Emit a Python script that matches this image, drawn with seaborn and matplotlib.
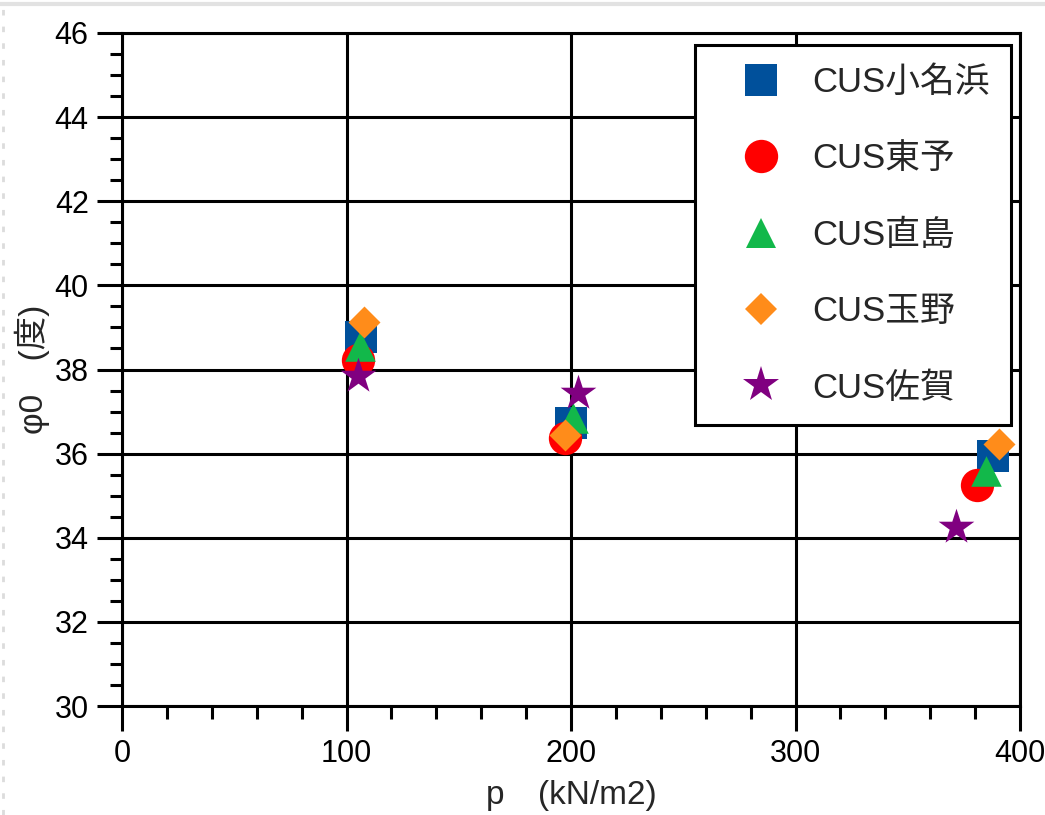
import matplotlib
matplotlib.use("Agg")
import matplotlib.pyplot as plt
from matplotlib.ticker import MultipleLocator
from matplotlib.font_manager import FontProperties
from matplotlib.lines import Line2D
import seaborn as sns
import pandas as pd

# ---- data ----
series = ["CUS小名浜", "CUS東予", "CUS直島", "CUS玉野", "CUS佐賀"]
x_onahama = [106.6, 200.0, 388.0]
y_onahama = [38.77, 36.73, 35.94]
x_toyo = [105.3, 197.3, 381.0]
y_toyo = [38.23, 36.37, 35.25]
x_naoshima = [106.0, 201.0, 385.0]
y_naoshima = [38.56, 36.85, 35.59]
x_tamano = [108.0, 197.3, 390.7]
y_tamano = [39.13, 36.44, 36.23]
x_saga = [105.0, 203.0, 371.5]
y_saga = [37.85, 37.44, 34.26]
x_ticks = [0, 100, 200, 300, 400]
y_ticks = [30, 32, 34, 36, 38, 40, 42, 44, 46]
x_label = "p\u3000(kN/m2)"
y_label = "φ0\u3000(度)"

xs = [x_onahama, x_toyo, x_naoshima, x_tamano, x_saga]
ys = [y_onahama, y_toyo, y_naoshima, y_tamano, y_saga]

# ---- styles ----
colors = ["#00509B", "#FF0000", "#12B84A", "#FF8C1A", "#800080"]
markers = ["s", "o", "^", "D", "*"]
sizes = [529, 576, 484, 265, 730]

sns.set_style("white")
plt.rcParams["font.family"] = ["Liberation Sans", "Noto Sans CJK JP", "DejaVu Sans"]

fig = plt.figure(figsize=(10.45, 8.15), dpi=100)
ax = fig.add_axes([122 / 1045, 1 - 706 / 815, 898 / 1045, 673 / 815])

rows = []
for name, xv, yv in zip(series, xs, ys):
    for a, b in zip(xv, yv):
        rows.append({"series": name, "p": a, "phi": b})
df = pd.DataFrame(rows)

for i, name in enumerate(series):
    sub = df[df["series"] == name]
    sns.scatterplot(data=sub, x="p", y="phi", ax=ax, color=colors[i],
                    marker=markers[i], s=sizes[i], linewidth=0, zorder=3 + i,
                    legend=False)

ax.set_xlim(0, 400)
ax.set_ylim(30, 46)
ax.set_xticks(x_ticks)
ax.set_yticks(y_ticks)
ax.set_xticklabels([str(v) for v in x_ticks])
ax.set_yticklabels([str(v) for v in y_ticks])
ax.xaxis.set_minor_locator(MultipleLocator(20))
ax.yaxis.set_minor_locator(MultipleLocator(0.5))
ax.tick_params(which="both", bottom=True, left=True, top=False, right=False)
ax.tick_params(which="major", direction="out", length=18, width=2.2,
               labelsize=22, pad=6, color="black", labelcolor="black")
ax.tick_params(which="minor", direction="out", length=9, width=2.2, color="black")
ax.grid(True, which="major", color="black", linewidth=2.2, zorder=1)
ax.grid(False, which="minor")
ax.set_axisbelow(True)
for sp in ax.spines.values():
    sp.set_visible(True)
    sp.set_color("black")
    sp.set_linewidth(2.2)

lab_font = FontProperties(family=["Liberation Sans", "Noto Sans CJK JP"], size=24)
ax.set_xlabel(x_label, fontproperties=lab_font, labelpad=8)
ax.set_ylabel(y_label, fontproperties=lab_font, labelpad=3)

handles = [Line2D([], [], linestyle="none", marker=markers[i], color=colors[i],
                  markersize=(sizes[i]) ** 0.5, markeredgewidth=0)
           for i in range(len(series))]
leg_font = FontProperties(family=["Liberation Sans", "Noto Sans CJK JP"], size=25)
leg = ax.legend(handles, series, loc="upper left", bbox_to_anchor=(0.638, 0.982),
                borderaxespad=0, prop=leg_font, frameon=True, fancybox=False,
                framealpha=1, edgecolor="black", borderpad=0.6,
                labelspacing=1.25, handlelength=2.58, handletextpad=0.21)
leg.get_frame().set_linewidth(2.2)
leg.set_zorder(20)

# light window border
fig.add_artist(Line2D([0, 1], [1 - 4 / 815, 1 - 4 / 815], transform=fig.transFigure,
                      color="#e2e2e2", linewidth=3))
fig.add_artist(Line2D([3 / 1045, 3 / 1045], [0, 1], transform=fig.transFigure,
                      color="#dcdcdc", linewidth=2, linestyle=(0, (2, 4))))

fig.savefig("out.png", dpi=100)
